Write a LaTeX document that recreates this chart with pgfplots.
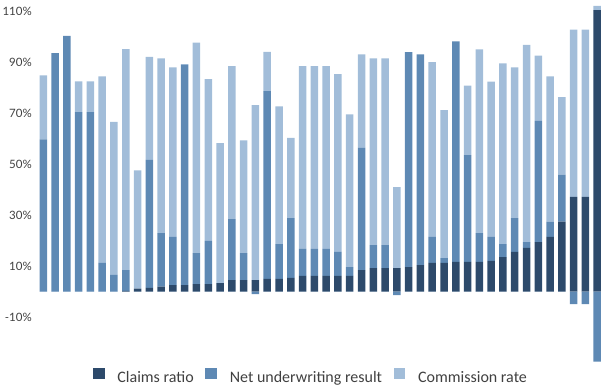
\documentclass[border=0pt]{standalone}
\usepackage{fontspec}
\setmainfont{Carlito}
\newfontfamily\tickfont{Lato}
\usepackage{pgfplots}
\usepackage{pgfplotstable}
\pgfplotsset{compat=1.18}
\definecolor{cdark}{HTML}{2D4A6B}
\definecolor{cmid}{HTML}{5E89B4}
\definecolor{clight}{HTML}{A2BDD9}
\definecolor{ctick}{HTML}{404040}
\pgfplotstableread{
x claims net comm
0 0 59.7 25.1
1 0 93.5 0
2 0 100.3 0
3 0 70.4 12.0
4 0 70.4 12.0
5 0 11.2 73.2
6 0 6.5 60.0
7 0.3 8.1 86.7
8 1.1 0 46.4
9 1.4 50.2 40.4
10 1.9 21.0 68.5
11 2.5 18.9 66.5
12 2.5 86.4 0.3
13 2.9 12.2 82.5
14 2.9 17.0 63.4
15 3.3 0 54.9
16 4.5 23.9 60.0
17 4.5 10.6 44.2
18 4.5 -1.0 68.6
19 5.0 73.6 15.4
20 5.0 13.6 54.0
21 5.4 23.4 31.5
22 6.1 10.6 71.7
23 6.1 10.6 71.7
24 6.1 10.6 71.7
25 6.1 9.4 69.8
26 6.1 3.5 59.9
27 8.4 47.9 36.7
28 9.2 9.0 73.2
29 9.2 9.0 73.2
30 9.2 -1.4 31.7
31 9.6 84.3 0
32 10.4 82.6 0
33 11.2 10.2 68.6
34 11.2 1.9 58.0
35 11.6 86.5 0
36 11.6 41.9 27.2
37 11.6 11.3 72.1
38 12.0 9.4 60.9
39 13.5 5.1 70.9
40 15.5 13.3 59.1
41 17.1 2.3 77.3
42 19.4 47.5 25.6
43 21.4 6.0 57.0
44 27.4 18.4 30.4
45 37.1 -4.9 65.6
46 37.1 -4.9 65.6
47 110.4 -27.5 1.6
}\data
\pgfplotsset{base/.style={scale only axis, width=561.5pt, height=359.8pt,
  at={(39.5pt,24.1pt)}, anchor=south west,
  xmin=-0.32, xmax=47.32, ymin=-27.6, ymax=113.5,
  axis line style={draw=none}, major tick length=0pt, xtick=\empty,
  bar width=7.5pt}}
\begin{document}
\begin{tikzpicture}
\useasboundingbox (0,0) rectangle (601pt,386pt);
\begin{axis}[base, ybar stacked,
  ytick={-10,10,30,50,70,90,110},
  yticklabels={-10\%,10\%,30\%,50\%,70\%,90\%,110\%},
  yticklabel style={font=\tickfont\fontsize{11.5}{12}\selectfont, text=ctick, anchor=east, inner sep=0pt, xshift=-7.5pt},
  legend columns=3,
  legend image code/.code={\fill[#1] (0pt,-1.7pt) rectangle (11.7pt,10pt);},
  legend style={at={(axis description cs:0.4817,-0.0385)}, anchor=center, draw=none, fill=none,
    font=\fontsize{16}{19}\selectfont, text=ctick, inner sep=0pt,
    nodes={inner sep=0pt},
    /tikz/every odd column/.append style={column sep=12.7pt},
    /tikz/every even column/.append style={column sep=11.7pt}}]
\addplot[fill=cdark, draw=none] table[x=x, y=claims] {\data};
\addplot[fill=cmid, draw=none] table[x=x, y expr={max(\thisrow{net},0)}] {\data};
\addplot[fill=clight, draw=none] table[x=x, y=comm] {\data};
\legend{Claims ratio, Net underwriting result, Commission rate}
\end{axis}
\begin{axis}[base, ybar, bar shift=0pt, ytick=\empty]
\addplot[fill=cmid, draw=none] table[x=x, y expr={min(\thisrow{net},0)}] {\data};
\end{axis}
\end{tikzpicture}
\end{document}
